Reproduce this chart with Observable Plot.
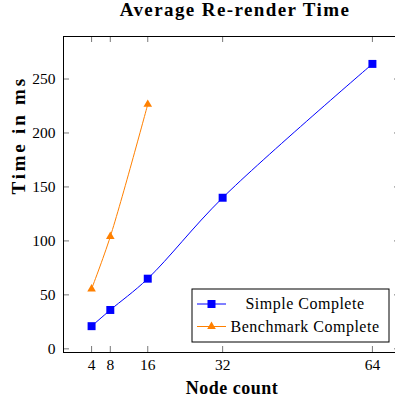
<!DOCTYPE html>
<html><head><meta charset="utf-8">
<script src="https://cdn.jsdelivr.net/npm/d3@7"></script>
<script src="https://cdn.jsdelivr.net/npm/@observablehq/plot@0.6"></script>
<style>body{margin:0;overflow:hidden;background:#fff} svg{max-width:none !important}</style>
</head><body><div id="chart"></div>
<script>
const simpleNodeCounts = [4, 8, 16, 32, 64];
const simpleComplete = [21, 36, 65, 140, 264];
const benchmarkNodeCounts = [4, 8, 16];
const benchmarkComplete = [55.5, 104, 226.5];
const xTicks = [4, 8, 16, 32, 64];
const yTicks = [0, 50, 100, 150, 200, 250];
const seriesNames = ["Simple Complete", "Benchmark Complete"];
const seriesColors = ["#0000ff", "#ff8000"];
const titleText = "Average Re-render Time";
const xLabel = "Node count";
const yLabel = "Time in ms";

const serif = "'Liberation Serif', 'DejaVu Serif', serif";
const simple = simpleNodeCounts.map((x, i) => ({x, y: simpleComplete[i]}));
const bench = benchmarkNodeCounts.map((x, i) => ({x, y: benchmarkComplete[i]}));

const W = 400, H = 400, mL = 63, mR = 0, mT = 36, mB = 48;
const pw = W - mL - mR, ph = H - mT - mB, tl = 6;

const chart = Plot.plot({
  width: W, height: H,
  marginLeft: mL, marginRight: mR, marginTop: mT, marginBottom: mB,
  style: {fontFamily: serif, fontSize: "15px", color: "black", background: "white", overflow: "visible", maxWidth: "none"},
  x: {domain: [-2, 70]},
  y: {domain: [-3.4, 289.4]},
  marks: [
    Plot.tickX(xTicks, {x: d => d, insetTop: ph - tl, stroke: "#555", strokeWidth: 0.8}),
    Plot.tickX(xTicks, {x: d => d, insetBottom: ph - tl, stroke: "#555", strokeWidth: 0.8}),
    Plot.tickY(yTicks, {y: d => d, insetRight: pw - tl, stroke: "#555", strokeWidth: 0.8}),
    Plot.tickY(yTicks, {y: d => d, insetLeft: pw - tl, stroke: "#555", strokeWidth: 0.8}),
    Plot.axisX({ticks: xTicks, tickSize: 0, tickPadding: 6, label: null, fontSize: 15.5}),
    Plot.axisY({ticks: yTicks, tickSize: 0, tickPadding: 8, label: null, fontSize: 15.5}),
    Plot.line(simple, {x: "x", y: "y", stroke: seriesColors[0], strokeWidth: 1, curve: "catmull-rom"}),
    Plot.line(bench, {x: "x", y: "y", stroke: seriesColors[1], strokeWidth: 1, curve: "catmull-rom"}),
    Plot.dot(simple, {x: "x", y: "y", symbol: "square", r: 4.5, fill: seriesColors[0], stroke: "none"}),
    Plot.dot(bench, {x: "x", y: "y", symbol: "triangle", r: 3.2, fill: seriesColors[1], stroke: "none"}),
    Plot.frame({stroke: "black", strokeWidth: 1}),
    Plot.text([titleText], {text: d => d, frameAnchor: "top", lineAnchor: "middle", dy: -27, dx: 3, fontWeight: "bold", fontSize: 19}),
    Plot.text([xLabel], {text: d => d, frameAnchor: "bottom", lineAnchor: "middle", dy: 36, fontWeight: "bold", fontSize: 18}),
    Plot.text([yLabel], {text: d => d, frameAnchor: "left", lineAnchor: "middle", dx: -45, rotate: -90, fontWeight: "bold", fontSize: 19})
  ]
});
document.getElementById("chart").append(chart);

// letter spacing to approximate the wider Computer Modern metrics
const svg = d3.select(chart);
svg.selectAll("text").each(function() {
  const t = this.textContent;
  if (t === titleText) this.setAttribute("letter-spacing", "1.4");
  if (t === xLabel) this.setAttribute("letter-spacing", "0.5");
  if (t === yLabel) this.setAttribute("letter-spacing", "2.8");
});

// legend (inside the plot, lower right)
const lg = svg.append("g").attr("font-family", serif).attr("font-size", 16);
const lx = 192, ly = 289, lw = 197, lh = 53;
lg.append("rect").attr("x", lx).attr("y", ly).attr("width", lw).attr("height", lh)
  .attr("fill", "white").attr("stroke", "black").attr("stroke-width", 1);
const symbols = [d3.symbolSquare, d3.symbolTriangle];
const sizes = [64, 32];
seriesNames.forEach((name, i) => {
  const cy = ly + 15 + i * 22.5;
  lg.append("line").attr("x1", lx + 5).attr("x2", lx + 34).attr("y1", cy).attr("y2", cy)
    .attr("stroke", seriesColors[i]).attr("stroke-width", 1);
  lg.append("path").attr("d", d3.symbol(symbols[i], sizes[i])())
    .attr("transform", `translate(${lx + 19.5},${cy})`).attr("fill", seriesColors[i]);
  lg.append("text").attr("x", 305).attr("y", cy).attr("dy", "0.32em")
    .attr("text-anchor", "middle").attr("letter-spacing", "0.5").attr("fill", "black").text(name);
});
</script></body></html>
